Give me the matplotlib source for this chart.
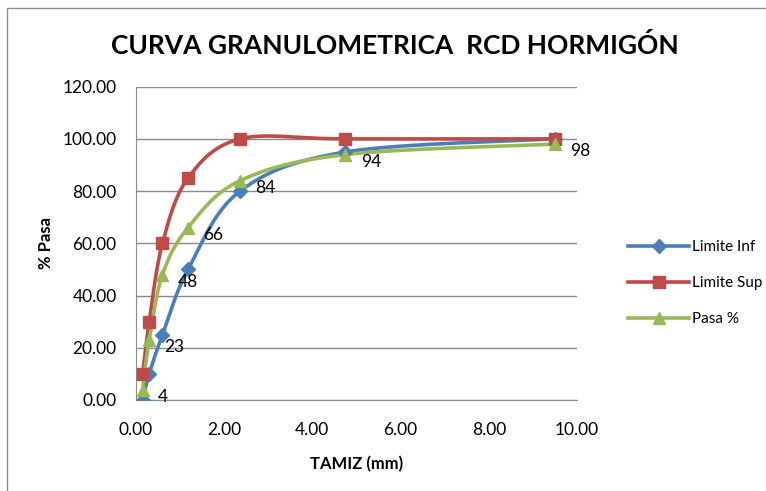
import numpy as np
import matplotlib
matplotlib.use("Agg")
import matplotlib.pyplot as plt
from matplotlib.patches import Rectangle

plt.rcParams['font.family'] = ['Lato', 'DejaVu Sans']

# tamices (mm) y porcentajes que pasan
tamiz = [0.15, 0.30, 0.60, 1.18, 2.36, 4.75, 9.50]
limite_inf = [0, 10, 25, 50, 80, 95, 100]
limite_sup = [10, 30, 60, 85, 100, 100, 100]
pasa = [4, 23, 48, 66, 84, 94, 98]
etiquetas_pasa = ["4", "23", "48", "66", "84", "94", "98"]


def suavizar(px, py, n=40):
    # curva suavizada tipo Excel (Bezier Catmull-Rom) entre los puntos dados
    P = np.column_stack([px, py]).astype(float)
    out = [P[0]]
    for i in range(len(P) - 1):
        p0 = P[i - 1] if i > 0 else P[i]
        p1 = P[i]
        p2 = P[i + 1]
        p3 = P[i + 2] if i + 2 < len(P) else P[i + 1]
        c1 = p1 + (p2 - p0) / 6.0
        c2 = p2 - (p3 - p1) / 6.0
        t = np.linspace(0, 1, n)[1:, None]
        seg = ((1 - t) ** 3) * p1 + 3 * ((1 - t) ** 2) * t * c1 + 3 * (1 - t) * t ** 2 * c2 + t ** 3 * p2
        out.extend(seg)
    out = np.array(out)
    return out[:, 0], out[:, 1]


fig = plt.figure(figsize=(7.66, 4.91), dpi=100)
fig.patches.append(Rectangle((7 / 766, -0.1), 1.2, 1.1 - 8 / 491, transform=fig.transFigure,
                             fill=False, edgecolor='#8c8c8c', lw=1.0))

ax = fig.add_axes([136 / 766, 1 - 400 / 491, (577 - 136) / 766, (400 - 86.7) / 491])

series = [
    ("Limite Inf", limite_inf, '#4A7EBB', 'D', 7),
    ("Limite Sup", limite_sup, '#BE4B48', 's', 8),
    ("Pasa %", pasa, '#98B954', '^', 9),
]
for name, vals, col, mk, ms in series:
    sx, sy = suavizar(tamiz, vals)
    ax.plot(sx, sy, color=col, lw=2.6, zorder=3)
    ax.plot(tamiz, vals, linestyle='none', marker=mk, ms=ms, color=col, zorder=4)
    # entrada de leyenda
    ax.plot([], [], color=col, lw=2.6, marker=mk, ms=ms, label=name)

for x, y, lab in zip(tamiz, pasa, etiquetas_pasa):
    ax.annotate(lab, (x, y), xytext=(11, -5), textcoords='offset points',
                fontsize=12.5, ha='left', va='center', color='black', zorder=5)

ax.set_xlim(0, 10)
ax.set_ylim(0, 120)
ax.set_xticks(np.arange(0, 10.1, 2))
ax.set_yticks(np.arange(0, 121, 20))
ax.set_xticklabels([f"{v:.2f}" for v in np.arange(0, 10.1, 2)])
ax.set_yticklabels([f"{v:.2f}" for v in np.arange(0, 121, 20)])
ax.tick_params(labelsize=12.5, length=0)
ax.tick_params(axis='y', pad=14)
ax.tick_params(axis='x', pad=16)
ax.grid(True, axis='y', color='#8c8c8c', lw=1)
ax.set_axisbelow(True)
for s in ['top', 'right']:
    ax.spines[s].set_visible(False)
for s in ['left', 'bottom']:
    ax.spines[s].set_color('#8c8c8c')

ax.set_xlabel("TAMIZ (mm)", fontsize=12, fontweight='bold', labelpad=13)
ax.set_ylabel("% Pasa", fontsize=12, fontweight='bold', labelpad=6)

fig.text(395 / 766, 1 - 45 / 491, "CURVA GRANULOMETRICA  RCD HORMIGÓN", fontsize=19,
         fontweight='bold', ha='center', va='center')

ax.legend(loc='center left', bbox_to_anchor=(1.116, 0.373), frameon=False, fontsize=11,
          handlelength=4.0, labelspacing=1.45, handletextpad=0.15, borderpad=0,
          borderaxespad=0)

fig.savefig("out.png", dpi=100)
